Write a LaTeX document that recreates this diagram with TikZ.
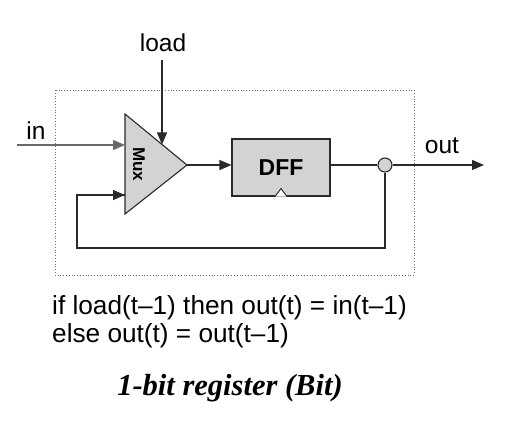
\documentclass[tikz,border=0pt]{standalone}
\usepackage{fontspec}
\setmainfont{Liberation Sans}
\newfontfamily\titlefont{Liberation Serif}
\usetikzlibrary{arrows.meta}
\definecolor{boxgray}{HTML}{D3D3D3}
\definecolor{linegray}{HTML}{2A2A2A}
\begin{document}
\begin{tikzpicture}[x=1pt,y=-1pt,
  wire/.style={draw=linegray,line width=1.1pt},
  arr/.style={wire,-{Triangle[length=12pt,width=10pt]}},
  lbl/.style={font=\fontsize{24.5}{28}\selectfont,inner sep=0pt},
  eq/.style={font=\fontsize{26.2}{31}\selectfont,inner sep=0pt,anchor=west}]
\useasboundingbox (0,0) rectangle (519,425);
% dotted enclosure
\draw[linegray!70,dotted,line width=0.8pt] (55,90) rectangle (414,275);
% mux
\draw[wire,fill=boxgray] (125,114) coordinate (mtop) -- (187,165) coordinate (mtip) -- (125,214) coordinate (mbot) -- cycle;
\node[rotate=-90,font=\fontsize{17}{20}\selectfont\bfseries,inner sep=0pt] (mux) at (139,164) {Mux};
\coordinate (min1) at (125,145);
\coordinate (min2) at (125,195);
\coordinate (mload) at (162,144.5);
% DFF
\node[draw=linegray,line width=1.1pt,fill=boxgray,minimum width=98pt,minimum height=57pt,inner sep=0pt,
  font=\fontsize{23}{28}\selectfont\bfseries] (dff) at (281,167.5) {DFF};
\draw[linegray,line width=1pt,fill=white] ([xshift=-6pt]dff.south) -- ([yshift=8pt]dff.south) -- ([xshift=6pt]dff.south);
% junction
\node[circle,draw=linegray,line width=1.1pt,fill=boxgray,minimum size=14pt,inner sep=0pt] (j) at (385,165) {};
% labels
\node[lbl] (load) at (163,43) {load};
\node[lbl] (in) at (36,131) {in};
\node[lbl] (out) at (442,146) {out};
\coordinate (loadtop) at (162,60);
\coordinate (inleft) at (17,145);
\coordinate (outend) at (484,165);
\coordinate (fbl) at (77,248);
\coordinate (fbr) at (385,248);
% wires
\draw[arr] (loadtop) -- (mload);
\draw[arr,draw=linegray!70] (inleft) -- (min1);
\draw[arr] (mtip) -- (dff.west |- mtip);
\draw[wire] (dff.east |- j) -- (j.west);
\draw[arr] (j.east) -- (outend);
\draw[wire] (j.south) -- (fbr) -- (fbl) -- (77,195) -- (min2);
\draw[arr] (77,195) -- (min2);
% equations
\node[eq] (eq1) at (52,308) {if load(t–1) then out(t) = in(t–1)};
\node[eq] (eq2) at (52,336) {else out(t) = out(t–1)};
\node[font=\fontsize{30.5}{36}\selectfont\titlefont\bfseries\itshape,inner sep=0pt] (title) at (230,388) {1-bit register (Bit)};
\end{tikzpicture}
\end{document}
